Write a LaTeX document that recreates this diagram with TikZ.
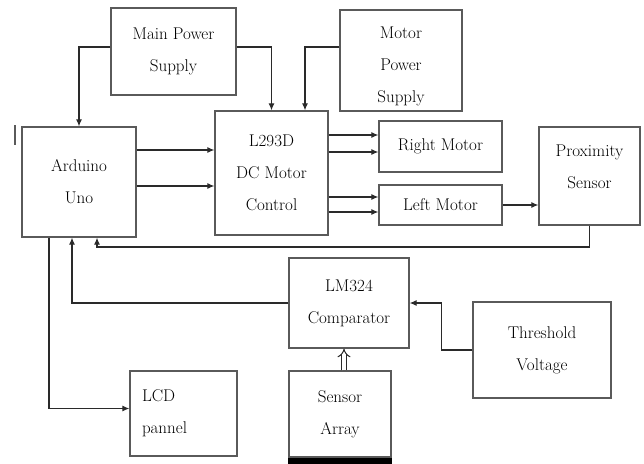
\documentclass[tikz,border=0pt]{standalone}
\usetikzlibrary{arrows.meta,positioning}
\definecolor{ink}{HTML}{2A2A2A}
\definecolor{edge}{HTML}{5A5A5A}
\tikzset{
  blk/.style={draw=edge,line width=1.3pt,inner sep=0pt,align=center,font=\fontsize{17}{32}\selectfont,text=black},
  txt/.style={align=center,font=\fontsize{17}{32}\selectfont,text=black},
  ar/.style={-{Latex[length=7pt,width=6pt]},draw=ink,line width=1.1pt},
  dbl/.style={-{Implies},draw=ink,double,double distance=3.5pt,line width=1pt},
}
\begin{document}
\begin{tikzpicture}[x=1pt,y=-1pt]
  \useasboundingbox (0,0) rectangle (644,463);
  % blocks
  \node[blk,minimum width=125pt,minimum height=87pt] (mps) at (173.5,51.5) {Main Power\\Supply};
  \node[blk,minimum width=122pt,minimum height=101pt,
        label={[name=mtpst,txt,yshift=-6pt]center:Motor\\Power\\Supply}] (mtps) at (401,60.5) {};
  \node[blk,minimum width=114pt,minimum height=110pt] (ard) at (79,182) {Arduino\\Uno};
  \node[blk,minimum width=113pt,minimum height=124pt] (drv) at (271.5,173) {L293D\\DC Motor\\Control};
  \node[blk,minimum width=123pt,minimum height=51pt] (rmot) at (440.5,146.5) {Right Motor};
  \node[blk,minimum width=123pt,minimum height=40pt] (lmot) at (440.5,205) {Left Motor};
  \node[blk,minimum width=101pt,minimum height=98pt,
        label={[name=proxt,txt,yshift=9pt]center:Proximity\\Sensor}] (prox) at (589.5,176) {};
  \node[blk,minimum width=120pt,minimum height=90pt] (cmp) at (349,303) {LM324\\Comparator};
  \node[blk,minimum width=138pt,minimum height=96pt] (thr) at (542,350) {Threshold\\Voltage};
  \node[blk,minimum width=107pt,minimum height=85pt,text width=83pt,align=left] (lcd) at (183.5,413.5) {LCD\\pannel};
  \node[blk,minimum width=102pt,minimum height=86pt] (sens) at (340,414) {Sensor\\Array};
  \fill[black] (sens.south west) rectangle ([yshift=-7pt]sens.south east);
  \draw[edge,line width=1.5pt] (15,125) -- (15,145);
  % power lines
  \draw[ar] ([yshift=4.5pt]mps.west) -| (ard.north);
  \draw[ar] ([yshift=4.5pt]mps.east) -| (drv.north);
  \draw[ar] ([yshift=13.5pt]mtps.west) -| ([xshift=33.5pt]drv.north);
  % control lines
  \draw[ar] (ard.east |- 0,150) -- (drv.west |- 0,150);
  \draw[ar] (ard.east |- 0,186) -- (drv.west |- 0,186);
  \draw[ar] (drv.east |- 0,135) -- (rmot.west |- 0,135);
  \draw[ar] (drv.east |- 0,152) -- (rmot.west |- 0,152);
  \draw[ar] (drv.east |- 0,197) -- (lmot.west |- 0,197);
  \draw[ar] (drv.east |- 0,212) -- (lmot.west |- 0,212);
  \draw[ar] (lmot.east) -- (prox.west |- lmot.east);
  % feedback
  \draw[ar] (prox.south) -- (prox.south |- 0,247) -| ([xshift=18pt]ard.south);
  \draw[ar] (cmp.west) -| ([xshift=-7pt]ard.south);
  \draw[ar] ([xshift=-30pt]ard.south) |- ([yshift=5pt]lcd.west);
  \draw[ar] (thr.west) -- ++(-31,0) |- (cmp.east);
  \draw[dbl] ([xshift=4pt]sens.north) -- ([xshift=4pt]sens.north |- cmp.south);
\end{tikzpicture}
\end{document}
